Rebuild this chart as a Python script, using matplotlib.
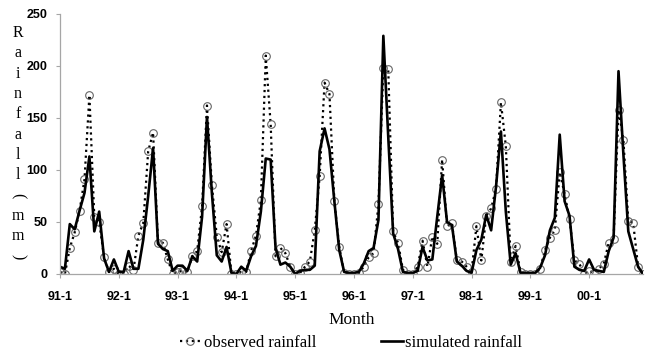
import numpy as np
import matplotlib.pyplot as plt

# monthly rainfall, Jan 1991 - Dec 2000
observed = [2, 0, 25, 40, 61, 91, 172, 55, 50, 16, 2, 5,
            0, 0, 8, 4, 37, 49, 118, 136, 30, 30, 14, 0,
            2, 3, 2, 17, 22, 65, 162, 86, 36, 21, 48, 0,
            0, 2, 2, 22, 37, 71, 210, 144, 17, 25, 20, 7,
            0, 1, 7, 12, 42, 94, 184, 173, 70, 26, 1, 0,
            0, 1, 7, 16, 20, 67, 198, 197, 41, 30, 4, 0,
            0, 7, 32, 7, 36, 29, 110, 46, 49, 13, 12, 7,
            2, 46, 13, 56, 63, 82, 165, 123, 12, 27, 2, 0,
            0, 0, 5, 23, 35, 42, 98, 77, 53, 13, 10, 0,
            3, 1, 5, 10, 30, 34, 158, 129, 51, 49, 7, 0]
simulated = [7, 5, 48, 43, 61, 78, 113, 41, 60, 15, 2, 14,
             2, 2, 22, 5, 5, 33, 75, 121, 29, 24, 22, 3,
             8, 8, 3, 17, 12, 55, 151, 78, 18, 12, 26, 1,
             0, 7, 3, 17, 27, 60, 111, 110, 25, 9, 11, 7,
             0, 3, 4, 4, 8, 118, 140, 120, 70, 23, 2, 1,
             1, 2, 10, 22, 25, 52, 229, 132, 39, 24, 2, 1,
             1, 3, 26, 13, 14, 55, 95, 50, 47, 12, 8, 3,
             1, 23, 33, 57, 42, 84, 137, 60, 9, 20, 1, 1,
             1, 1, 6, 18, 42, 54, 134, 70, 56, 7, 4, 3,
             14, 4, 3, 2, 22, 35, 195, 115, 41, 24, 7, 0]
year_labels = ["91-1", "92-1", "93-1", "94-1", "95-1",
               "96-1", "97-1", "98-1", "99-1", "00-1"]
ylabel_chars = ["R", "a", "i", "n", "f", "a", "l", "l", "(", "m", "m", ")"]

months = np.arange(len(observed))

fig = plt.figure(figsize=(6.51, 3.56), dpi=100)
ax = fig.add_axes([60/651, 1-274/356, 583/651, 260/356])

ax.plot(months, observed, color="black", linestyle=":", linewidth=1.6,
        marker="o", markersize=5.5, markerfacecolor="none",
        markeredgecolor="#666666", markeredgewidth=0.8,
        label="observed rainfall")
ax.plot(months, simulated, color="black", linewidth=1.9,
        label="simulated rainfall")

ax.set_xlim(0, len(observed) - 1)
ax.set_ylim(0, 250)
ax.set_yticks(range(0, 251, 50))
ax.set_xticks(np.arange(len(year_labels)) * 12)
ax.set_xticklabels(year_labels)
for s in ["top", "right"]:
    ax.spines[s].set_visible(False)
for s in ["left", "bottom"]:
    ax.spines[s].set_color("#a6a6a6")
    ax.spines[s].set_linewidth(0.9)
ax.tick_params(colors="#a6a6a6", length=3, width=0.8, pad=6)
for lab in ax.get_xticklabels() + ax.get_yticklabels():
    lab.set_color("black")
    lab.set_fontfamily("Liberation Sans")
    lab.set_fontweight("bold")
    lab.set_fontsize(9)
ax.tick_params(axis="x", pad=9)

ax.set_xlabel("Month", fontfamily="Liberation Serif", fontsize=12.5, labelpad=7)

# stacked vertical y label
y0 = 33
for k, ch in enumerate(ylabel_chars):
    rot = 0
    if ch == "(":
        rot = -90
    if ch == ")":
        rot = -90
    fig.text(18/651, 1 - (y0 + k * 20.3)/356, ch, ha="center", va="center",
             rotation=rot, fontfamily="Liberation Serif", fontsize=11.5)

fig.legend(loc="center", bbox_to_anchor=(351/651, 1-343/356), ncol=2,
           frameon=False, handlelength=1.3, handletextpad=0.15,
           columnspacing=3.9, prop={"family": "Liberation Serif", "size": 12})

fig.savefig("out.png", dpi=100)
